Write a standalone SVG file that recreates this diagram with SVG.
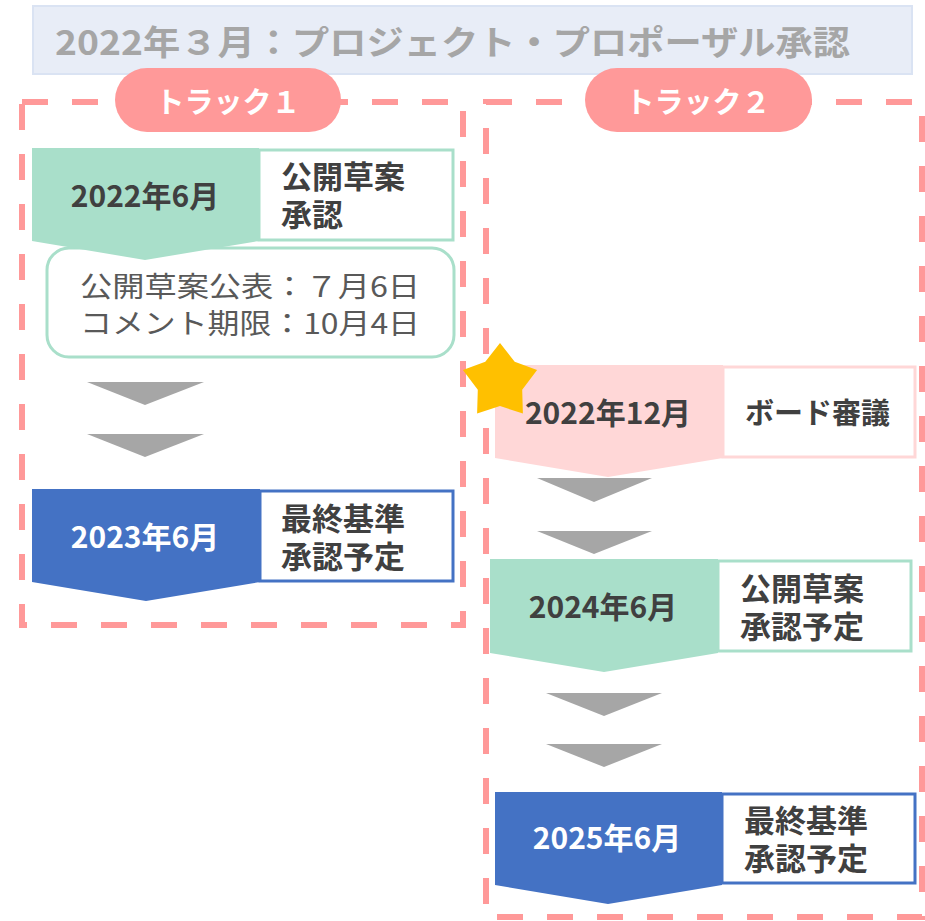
<svg xmlns="http://www.w3.org/2000/svg" width="925" height="921" viewBox="0 0 925 921">
<style>
text{font-family:"Noto Sans CJK JP","Noto Sans",sans-serif;}
.dash{fill:none;stroke:#ff9999;stroke-width:6;stroke-dasharray:26 24;}
.pill{fill:#ff9999;}
.pilltxt{fill:#ffffff;font-weight:700;font-size:29px;text-anchor:middle;dominant-baseline:central;}
.chev{fill:#a6a6a6;}
.date{font-weight:700;font-size:30px;text-anchor:middle;dominant-baseline:central;fill:#404040;}
.datew{fill:#ffffff;}
.lbl{font-weight:700;font-size:31px;dominant-baseline:central;fill:#404040;}
.info{font-size:28px;dominant-baseline:central;fill:#595959;}
.green{fill:#a9dfca;}
.gbox{fill:#ffffff;stroke:#a9dfca;stroke-width:3;}
.blue{fill:#4472c4;}
.bbox{fill:#ffffff;stroke:#4472c4;stroke-width:3;}
.pink{fill:#ffd7d7;}
.pbox{fill:#ffffff;stroke:#ffd7d7;stroke-width:3;}
</style>
<rect width="925" height="921" fill="#ffffff"/>
<g id="title">
<rect x="33" y="6" width="879" height="68" fill="#e8edf7" stroke="#dae3f3" stroke-width="2"/>
<text x="55" y="40" font-size="34" font-weight="700" fill="#a6a6a6" dominant-baseline="central" textLength="795" lengthAdjust="spacingAndGlyphs">2022年３月：プロジェクト・プロポーザル承認</text>
</g>
<g id="track1-frame">
<rect class="dash" x="22" y="102" width="441" height="523"/>
</g>
<g id="track2-frame">
<rect class="dash" x="486" y="102" width="436" height="815"/>
</g>
<g id="track1-label">
<rect class="pill" x="115" y="68" width="226" height="64" rx="32"/>
<text class="pilltxt" x="228" y="100">トラック１</text>
</g>
<g id="track2-label">
<rect class="pill" x="585" y="68" width="227" height="64" rx="32"/>
<text class="pilltxt" x="698" y="100">トラック２</text>
</g>
<g id="info">
<rect x="47" y="248" width="407" height="109" rx="22" fill="#ffffff" stroke="#a9dfca" stroke-width="3"/>
<text class="info" x="80" y="285" textLength="340" lengthAdjust="spacingAndGlyphs">公開草案公表：７月6日</text>
<text class="info" x="80" y="322" textLength="340" lengthAdjust="spacingAndGlyphs">コメント期限：10月4日</text>
</g>
<g id="n2022-6">
<polygon class="green" points="32,148 259,148 259,241 145,260 32,241"/>
<rect class="gbox" x="259" y="150" width="194" height="90"/>
<text class="date" x="145" y="194">2022年6月</text>
<text class="lbl" x="281" y="174">公開草案</text>
<text class="lbl" x="281" y="212">承認</text>
</g>
<g id="n2023-6">
<polygon class="blue" points="32,489 260,489 260,582 146,601 32,582"/>
<rect class="bbox" x="260" y="491" width="193" height="90"/>
<text class="date datew" x="145" y="535">2023年6月</text>
<text class="lbl" x="281" y="516">最終基準</text>
<text class="lbl" x="281" y="554">承認予定</text>
</g>
<g id="n2022-12">
<polygon class="pink" points="495,365 723,365 723,458 608,477 495,458"/>
<rect class="pbox" x="723" y="367" width="192" height="90"/>
<text class="date" x="608" y="411">2022年12月</text>
<text class="lbl" x="745" y="411" style="font-size:29px">ボード審議</text>
</g>
<g id="star">
<polygon fill="#ffc000" points="500,343 514.7,361.8 537.1,370 522.2,389.7 522.9,413.6 500,406 477.1,413.6 477.8,389.7 462.9,370 485.3,361.8"/>
</g>
<g id="n2024-6">
<polygon class="green" points="490,559 718,559 718,653 604,672 490,653"/>
<rect class="gbox" x="718" y="561" width="193" height="90"/>
<text class="date" x="603" y="605">2024年6月</text>
<text class="lbl" x="740" y="586">公開草案</text>
<text class="lbl" x="740" y="624">承認予定</text>
</g>
<g id="n2025-6">
<polygon class="blue" points="495,792 722,792 722,885 608,904 495,885"/>
<rect class="bbox" x="722" y="794" width="193" height="89"/>
<text class="date datew" x="607" y="836">2025年6月</text>
<text class="lbl" x="744" y="818">最終基準</text>
<text class="lbl" x="744" y="856">承認予定</text>
</g>
<g id="connectors">
<polygon class="chev" points="87,382 204,382 145,405"/>
<polygon class="chev" points="87,434 204,434 145,457"/>
<polygon class="chev" points="537,478 652,478 594,502"/>
<polygon class="chev" points="537,531 652,531 594,554"/>
<polygon class="chev" points="546,693 662,693 604,716"/>
<polygon class="chev" points="546,744 662,744 604,767"/>
</g>
</svg>
